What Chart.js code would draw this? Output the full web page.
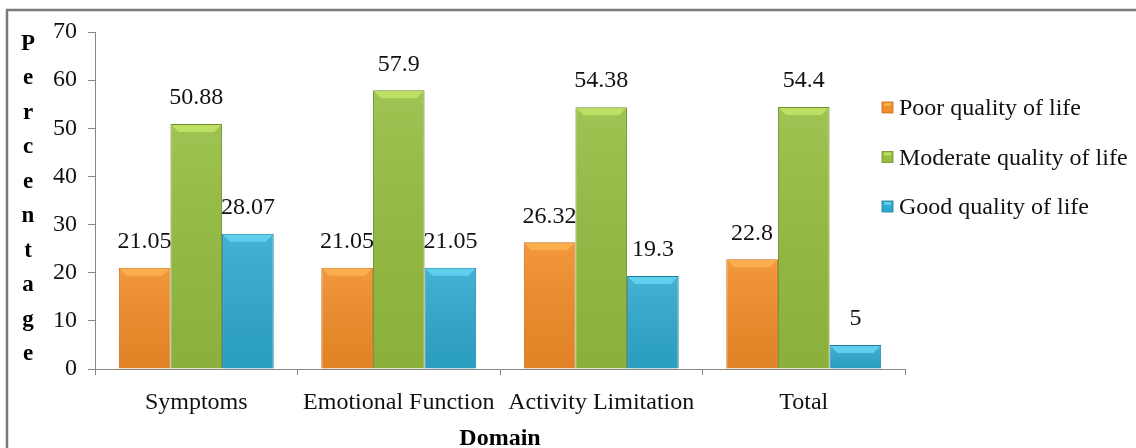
<!DOCTYPE html>
<html>
<head>
<meta charset="utf-8">
<script src="https://cdn.jsdelivr.net/npm/chart.js@4.4.0/dist/chart.umd.min.js"></script>
<style>
  html, body { margin: 0; padding: 0; background: #fff; }
  #wrap { width: 1136px; height: 448px; }
</style>
</head>
<body>
<div id="wrap"><canvas id="qolChart" width="1136" height="448"></canvas></div>
<script>
// --- data ---
const domains = ['Symptoms', 'Emotional Function', 'Activity Limitation', 'Total'];
const poorQol = [21.05, 21.05, 26.32, 22.8];
const moderateQol = [50.88, 57.9, 54.38, 54.4];
const goodQol = [28.07, 21.05, 19.3, 5];
const seriesNames = ['Poor quality of life', 'Moderate quality of life', 'Good quality of life'];
const yTickValues = [0, 10, 20, 30, 40, 50, 60, 70];
const yTitle = 'Percentage';
const xTitle = 'Domain';

const SERIF = "'Liberation Serif', 'Times New Roman', serif";

// base / bevel / edge colours per series
const palette = [
    { base: '#F28C28', light: '#FBAE4C', edge: '#C56C17' },
    { base: '#95BD3F', light: '#BCDF64', edge: '#6F8F2B' },
    { base: '#2EA9CF', light: '#5FCFEE', edge: '#1E7C9B' }
];

// --- small plugins ---
const frame = {
    id: 'frame',
    beforeDraw(chart) {
        const c = chart.ctx;
        c.save();
        c.strokeStyle = '#7a7a7a';
        c.lineWidth = 2.5;
        c.beginPath();
        c.moveTo(7, 448);
        c.lineTo(7, 10);
        c.lineTo(1136, 10);
        c.stroke();
        c.restore();
    }
};

const bevel = {
    id: 'bevel',
    afterDatasetsDraw(chart) {
        const c = chart.ctx;
        c.save();
        chart.data.datasets.forEach((ds, i) => {
            const col = palette[i];
            chart.getDatasetMeta(i).data.forEach(bar => {
                const l = bar.x - bar.width / 2 + 1, r = bar.x + bar.width / 2 - 1;
                const t = bar.y + 1, b = bar.base;
                const d = Math.min(7, (b - t) / 2);
                // soft darkening toward the bottom
                const g = c.createLinearGradient(0, t, 0, b);
                g.addColorStop(0, 'rgba(255,255,255,0.10)');
                g.addColorStop(1, 'rgba(0,0,0,0.07)');
                c.fillStyle = g;
                c.fillRect(l, t, r - l, b - t);
                // top bevel
                c.fillStyle = col.light;
                c.beginPath();
                c.moveTo(l, t);
                c.lineTo(r, t);
                c.lineTo(r - d, t + d);
                c.lineTo(l + d, t + d);
                c.closePath();
                c.fill();
            });
        });

        // value labels
        c.fillStyle = '#111';
        c.font = '24px ' + SERIF;
        c.textAlign = 'center';
        c.textBaseline = 'middle';
        chart.data.datasets.forEach((ds, i) => {
            chart.getDatasetMeta(i).data.forEach((bar, j) => {
                c.fillText(String(ds.data[j]), bar.x, bar.y - 26);
            });
        });
        c.restore();
    }
};

const sideText = {
    id: 'sideText',
    afterDraw(chart) {
        const c = chart.ctx;
        c.save();
        // stacked y title
        c.fillStyle = '#000';
        c.font = 'bold 23px ' + SERIF;
        c.textAlign = 'center';
        c.textBaseline = 'middle';
        yTitle.split('').forEach((ch, k) => c.fillText(ch, 28, 44 + k * 34.5));

        // legend
        c.font = '24px ' + SERIF;
        c.textAlign = 'left';
        chart.data.datasets.forEach((ds, i) => {
            const y = 108 + i * 49.5;
            const col = palette[i];
            c.fillStyle = col.base;
            c.fillRect(882, y - 6, 11, 11);
            c.fillStyle = col.light;
            c.fillRect(884, y - 5, 7, 3);
            c.strokeStyle = col.edge;
            c.lineWidth = 0.8;
            c.strokeRect(882, y - 6, 11, 11);
            c.fillStyle = '#111';
            c.fillText(ds.label, 899, y + 1);
        });
        c.restore();
    }
};

// --- chart ---
const ctx = document.getElementById('qolChart').getContext('2d');
const qolChart = new Chart(ctx, {
    type: 'bar',
    data: {
        labels: domains,
        datasets: [poorQol, moderateQol, goodQol].map((vals, i) => ({
            label: seriesNames[i],
            data: vals,
            backgroundColor: palette[i].base,
            borderColor: palette[i].edge,
            borderWidth: 1,
            categoryPercentage: 0.765,
            barPercentage: 1
        }))
    },
    options: {
        responsive: false,
        animation: false,
        devicePixelRatio: 1,
        layout: { padding: { top: 32, right: 231, bottom: 0, left: 0 } },
        plugins: {
            legend: { display: false },
            tooltip: { enabled: false }
        },
        scales: {
            x: {
                afterFit(scale) { scale.height = 79; },
                grid: { display: true, drawOnChartArea: false, offset: true, color: '#868686', tickLength: 6 },
                border: { color: '#868686' },
                ticks: { color: '#111', font: { family: SERIF, size: 24 }, padding: 13, maxRotation: 0, autoSkip: false },
                title: {
                    display: true, text: xTitle, color: '#000',
                    font: { family: SERIF, size: 24, weight: 'bold', lineHeight: 1 },
                    padding: { top: 0, bottom: -3 }
                }
            },
            y: {
                min: yTickValues[0],
                max: yTickValues[yTickValues.length - 1],
                afterFit(scale) { scale.width = 95; },
                afterBuildTicks(scale) { scale.ticks = yTickValues.map(v => ({ value: v })); },
                grid: { display: true, drawOnChartArea: false, color: '#868686', tickLength: 7 },
                border: { color: '#868686' },
                ticks: { color: '#111', font: { family: SERIF, size: 24 }, padding: 11 }
            }
        }
    },
    plugins: [frame, bevel, sideText]
});
</script>
</body>
</html>
